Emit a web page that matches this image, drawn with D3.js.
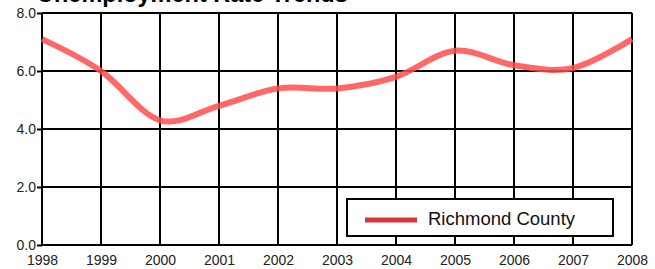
<!DOCTYPE html>
<html>
<head>
<meta charset="utf-8">
<script src="https://cdn.jsdelivr.net/npm/d3@7"></script>
<style>
  body { margin: 0; background: #fff; }
  svg { display: block; font-family: Arial, "Liberation Sans", sans-serif; }
</style>
</head>
<body>
<div id="chart"></div>
<script>
const years = [1998, 1999, 2000, 2001, 2002, 2003, 2004, 2005, 2006, 2007, 2008]
const rates = [7.1, 6.0, 4.3, 4.8, 5.4, 5.4, 5.8, 6.7, 6.2, 6.1, 7.1]
const yTicks = [0, 2, 4, 6, 8]
const seriesName = "Richmond County"
const title = "Unemployment Rate Trends"

const width = 655
const height = 269
const margin = { top: 13, right: 23, bottom: 24, left: 42 }

const svg = d3.select("#chart").append("svg")
  .attr("width", width)
  .attr("height", height)

// title sits mostly above the window edge, as in the source
svg.append("text")
  .attr("x", 37)
  .attr("y", 1.5)
  .attr("font-size", 23.5)
  .attr("font-weight", "bold")
  .attr("fill", "#000")
  .text(title)

const x = d3.scaleLinear()
  .domain([years[0], years[years.length - 1]])
  .range([margin.left, width - margin.right])

const y = d3.scaleLinear()
  .domain([0, 8])
  .range([height - margin.bottom, margin.top])

// vertical grid
svg.append("g")
  .selectAll("line")
  .data(years)
  .enter().append("line")
  .attr("x1", d => x(d)).attr("x2", d => x(d))
  .attr("y1", y(8)).attr("y2", y(0))
  .attr("stroke", "#000")
  .attr("stroke-width", 2)

// horizontal grid
svg.append("g")
  .selectAll("line")
  .data(yTicks)
  .enter().append("line")
  .attr("x1", x(years[0])).attr("x2", x(years[years.length - 1]))
  .attr("y1", d => y(d)).attr("y2", d => y(d))
  .attr("stroke", "#000")
  .attr("stroke-width", 2)

const yAxis = svg.append("g")
  .attr("transform", "translate(" + margin.left + ",0)")
  .call(d3.axisLeft(y).tickValues(yTicks).tickFormat(d3.format(".1f")).tickSize(5).tickPadding(1))
yAxis.select(".domain").remove()
yAxis.selectAll("line").attr("stroke", "#000").attr("stroke-width", 2)
yAxis.selectAll("text").attr("font-size", 14).attr("fill", "#222").attr("font-family", "Arial, sans-serif")

const xAxis = svg.append("g")
  .attr("transform", "translate(0," + y(0) + ")")
  .call(d3.axisBottom(x).tickValues(years).tickFormat(d3.format("d")).tickSize(0).tickPadding(10))
xAxis.select(".domain").remove()
xAxis.selectAll("text").attr("font-size", 14).attr("fill", "#222").attr("font-family", "Arial, sans-serif")

// series line
svg.append("path")
  .datum(years.map((yr, i) => ({ year: yr, value: rates[i] })))
  .attr("fill", "none")
  .attr("stroke", "#ff4d4d")
  .attr("stroke-opacity", 0.85)
  .attr("stroke-width", 6)
  .attr("stroke-linecap", "butt")
  .attr("d", d3.line()
    .x(d => x(d.year))
    .y(d => y(d.value))
    .curve(d3.curveCatmullRom.alpha(0)))

// legend
const legend = svg.append("g")
legend.append("rect")
  .attr("x", 347).attr("y", 199)
  .attr("width", 266).attr("height", 37)
  .attr("fill", "#fff")
  .attr("stroke", "#000")
  .attr("stroke-width", 2)
legend.append("line")
  .attr("x1", 365).attr("x2", 417)
  .attr("y1", 220).attr("y2", 220)
  .attr("stroke", "#d03838")
  .attr("stroke-width", 5)
legend.append("text")
  .attr("x", 428).attr("y", 225)
  .attr("font-size", 18.5)
  .attr("fill", "#111")
  .text(seriesName)
</script>
</body>
</html>
